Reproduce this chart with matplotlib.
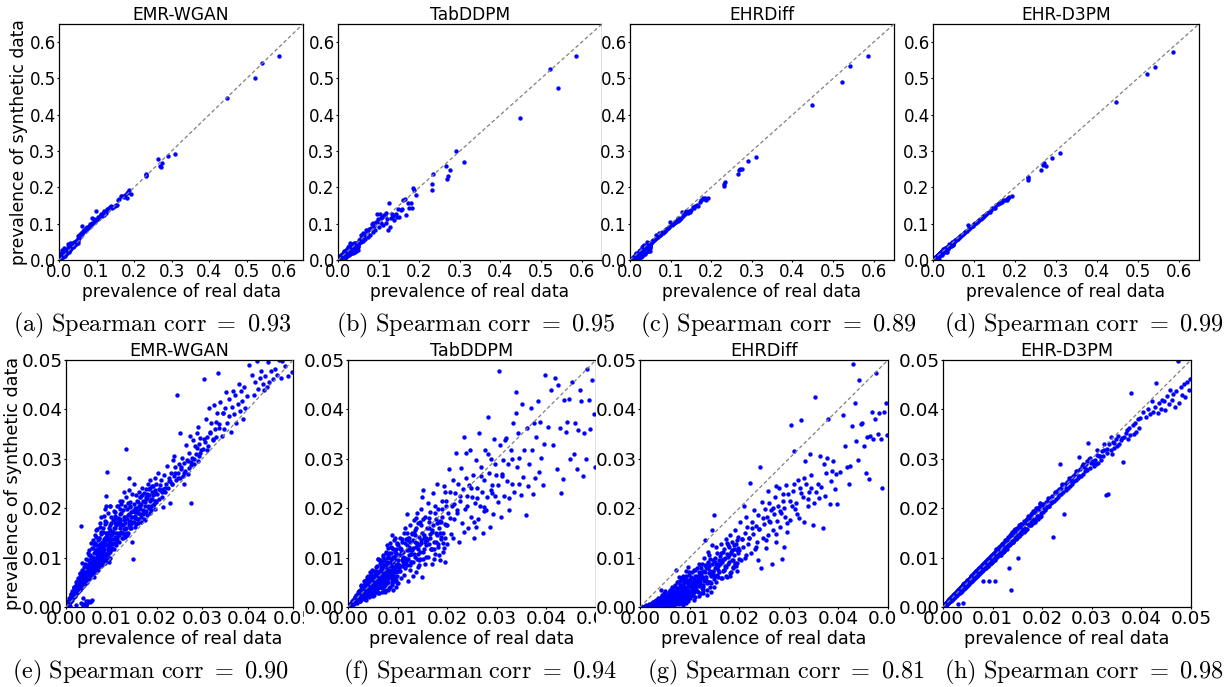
import numpy as np
import matplotlib
matplotlib.use('Agg')
import matplotlib.pyplot as plt
from matplotlib.patches import Rectangle

plt.rcParams['mathtext.fontset'] = 'cm'

# figure size in pixels (dpi 100)
W, H = 1229, 687

models = ['EMR-WGAN', 'TabDDPM', 'EHRDiff', 'EHR-D3PM']
letters_full = ['a', 'b', 'c', 'd']
letters_zoom = ['e', 'f', 'g', 'h']
corr_full = ['0.93', '0.95', '0.89', '0.99']
corr_zoom = ['0.90', '0.94', '0.81', '0.98']

# ---- prevalence values, in units of 1e-4 ----
# codes with high prevalence (> 0.05)
real_hi = [5870, 5420, 5230, 4470, 3100, 2910, 2750, 2710, 2690, 2650, 2330, 2320, 2310, 1920, 1860,
           1840, 1820, 1800, 1760, 1720, 1680, 1640, 1610, 1580, 1550, 1510, 1480, 1450, 1420, 1390,
           1360, 1330, 1300, 1270, 1250, 1230, 1210, 1190, 1170, 1150, 1130, 1110, 1090, 1070, 1050,
           1030, 1010, 990, 970, 950, 930, 910, 890, 870, 850, 830, 810, 790, 770, 750,
           730, 710, 690, 670, 650, 635, 620, 605, 590, 575, 560, 545, 530, 515, 505]
wgan_hi = [5620, 5430, 5000, 4450, 2920, 2860, 2660, 2550, 2600, 2770, 2360, 2310, 2330, 1830, 1920,
           1870, 1700, 1850, 1800, 1730, 1760, 1770, 1680, 1640, 1520, 1510, 1500, 1460, 1440, 1480,
           1450, 1420, 1390, 1400, 1290, 1330, 1350, 1240, 1300, 1210, 1240, 1280, 1200, 1150, 1120,
           1180, 1120, 1340, 1090, 1060, 1120, 1010, 1030, 1150, 960, 1000, 920, 950, 880, 900,
           840, 870, 800, 830, 760, 790, 940, 720, 730, 650, 680, 700, 610, 660, 590]
tab_hi = [5620, 4750, 5250, 3920, 2690, 3000, 2480, 2320, 2220, 2600, 2370, 2100, 1940, 1790, 1930,
          1990, 1430, 1560, 1420, 1580, 1240, 1680, 1660, 1400, 1390, 1190, 1410, 1180, 1270, 1100,
          1200, 1260, 1150, 920, 1560, 840, 1130, 1300, 1010, 1220, 1250, 960, 1180, 1150, 1020,
          1270, 900, 1120, 1280, 1050, 1060, 820, 950, 1010, 780, 990, 880, 700, 850, 820,
          620, 760, 820, 590, 710, 660, 740, 520, 630, 690, 500, 590, 560, 470, 540]
diff_hi = [5610, 5340, 4900, 4280, 2830, 2730, 2520, 2500, 2490, 2360, 2160, 2080, 2050, 1720, 1650,
           1700, 1680, 1700, 1640, 1600, 1500, 1510, 1480, 1440, 1470, 1390, 1330, 1360, 1300, 1360,
           1260, 1290, 1200, 1330, 1170, 1140, 1100, 1150, 1080, 1100, 1050, 1040, 1020, 990, 1000,
           960, 980, 1060, 900, 920, 870, 850, 860, 810, 800, 780, 740, 760, 720, 700,
           680, 750, 640, 630, 690, 610, 570, 580, 540, 560, 520, 510, 500, 470, 480]
d3pm_hi = [5720, 5320, 5120, 4360, 2950, 2800, 2600, 2660, 2620, 2490, 2290, 2200, 2250, 1760, 1740,
           1700, 1650, 1680, 1660, 1640, 1590, 1570, 1560, 1550, 1510, 1420, 1440, 1430, 1380, 1330,
           1330, 1300, 1270, 1250, 1220, 1190, 1200, 1160, 1140, 1120, 1110, 1080, 1070, 1040, 1030,
           1010, 990, 980, 950, 930, 910, 900, 870, 860, 970, 810, 800, 780, 770, 730,
           720, 700, 680, 660, 640, 630, 610, 590, 580, 570, 550, 540, 520, 510, 500]

# codes with low prevalence (<= 0.05)
real_lo = [
    498, 495, 491, 488, 485, 482, 479, 476, 473, 470, 467, 464, 461, 458, 455,
    452, 448, 445, 442, 439, 436, 433, 430, 427, 424, 421, 417, 413, 409, 404,
    398, 395, 393, 390, 388, 385, 383, 380, 378, 375, 373, 370, 368, 365, 363, 360, 358, 355, 353, 350,
    348, 345, 343, 340, 338, 335, 333, 330, 328, 325, 323, 320, 318, 315, 313, 311, 309, 306, 304, 302,
    298, 296, 294, 292, 290, 288, 286, 284, 282, 280, 278, 276, 274, 272, 270, 268, 266, 264, 262, 260,
    258, 256, 254, 252, 250, 248, 246, 244, 242, 240, 238, 236, 234, 232, 230, 228, 226, 224, 222, 220,
    218, 216, 214, 212, 210, 208, 206, 204, 202, 200, 291, 275, 259, 237, 213,
    199, 198, 196, 195, 194, 192, 191, 190, 189, 188, 186, 185, 184, 182, 181, 180,
    179, 178, 176, 175, 174, 172, 171, 170, 169, 168, 166, 165, 164, 162, 161, 160,
    159, 158, 156, 155, 154, 152, 151, 150, 149, 148, 146, 145, 144, 142, 141, 140,
    139, 138, 136, 135, 134, 132, 131, 130, 129, 128, 126, 125, 124, 122, 121, 120,
    119, 118, 116, 115, 114, 112, 111, 110, 109, 108, 106, 105, 104, 102, 101, 100,
    99, 98, 97, 96, 95, 94, 93, 92, 91, 90, 89, 88, 87, 86, 85, 84, 83, 82, 81, 80,
    79, 78, 77, 76, 75, 74, 73, 72, 71, 70, 69, 68, 67, 66, 65, 64, 63, 62, 61, 60,
    59, 58, 57, 56, 55, 54, 53, 52, 51, 50,
    99, 97, 95, 93, 91, 89, 87, 85, 83, 81, 79, 77, 75, 73, 71, 69, 67, 65, 63, 61, 59, 57, 55, 53, 51,
    49, 48, 47, 46, 45, 44, 43, 42, 41, 40, 39, 38, 37, 36, 35, 34, 33, 32, 31, 30,
    29, 28, 27, 26, 25, 24, 23, 22, 21, 20, 19, 18, 17, 16, 15, 14, 13, 12, 11, 10,
    9, 8, 7, 6, 5, 4, 3, 2, 1,
    49, 47, 45, 43, 41, 39, 37, 35, 33, 31, 29, 27, 25, 23, 21, 19, 17, 15, 13, 11, 9, 7, 5, 3, 1,
    197, 193, 189, 187, 183, 179, 177, 173, 169, 167, 163, 157, 153, 147, 143, 137, 133, 127, 123, 117, 113, 107, 103, 101,
    196, 185, 174, 163, 152, 141, 131, 121, 111, 104, 195, 176, 158, 139, 122, 108,
    188, 166, 144, 128, 115, 182, 154, 135, 118, 102,
    98, 96, 94, 92, 90, 88, 86, 84, 82, 80, 78, 76, 74, 72, 70, 68, 66, 64, 62, 60, 58, 56, 54, 52, 50,
    97, 93, 89, 85, 81, 77, 73, 69, 65, 61, 57, 53, 95, 87, 79, 71, 63, 55, 91, 83, 75, 67, 59, 51, 99,
    48, 46, 44, 42, 40, 38, 36, 34, 32, 30, 28, 26, 24, 22, 20, 18, 16, 14, 12, 10, 8, 6, 4, 2,
    47, 43, 39, 35, 31, 27, 23, 19, 15, 11, 7, 3, 49, 41, 33, 25, 17, 9,
    45, 37, 29, 21, 13, 5, 44, 36, 28, 20, 12, 4, 40, 30, 22, 14, 8, 2,
    149, 147, 145, 143, 141, 139, 137, 135, 133, 131, 129, 127, 125, 123, 121,
    119, 117, 115, 113, 111, 109, 107, 105, 103, 101, 148, 138, 128, 118, 108,
    99, 97, 96, 94, 93, 91, 90, 88, 87, 85, 84, 82, 81, 79, 78, 76, 75, 73, 72, 70,
    69, 67, 66, 64, 63, 61, 60, 58, 57, 55, 54, 52, 51, 98, 92, 86, 80, 74, 68, 62, 56, 50, 89, 77, 65,
    49, 47, 46, 44, 43, 41, 40, 38, 37, 35, 34, 32, 31, 29, 28, 26, 25, 23, 22, 20,
    19, 17, 16, 14, 13, 11, 10, 8, 7, 5, 4, 2, 1, 48, 42, 36, 30, 24, 18, 12, 6, 45, 33, 21, 9,
    345, 338, 331, 324, 317, 310, 303, 296, 289, 282, 275, 268, 261, 254, 247,
    240, 233, 226, 219, 212, 205, 198, 191, 184, 177, 170, 163, 156, 152, 158]
wgan_lo = [
    475, 520, 505, 468, 530, 488, 510, 497, 463, 499, 540, 470, 482, 512, 462,
    478, 455, 495, 446, 468, 440, 452, 478, 463, 441, 497, 455, 430, 470, 490,
    428, 402, 445, 381, 417, 437, 396, 452, 410, 372, 429, 390, 438, 404, 355, 421, 386, 373, 436, 403,
    360, 392, 347, 415, 371, 473, 392, 345, 361, 408, 338, 372, 355, 402, 326, 344, 381, 333, 462, 319,
    318, 342, 305, 330, 296, 352, 310, 325, 289, 338, 302, 293, 346, 281, 312, 270, 298, 328, 276, 292,
    265, 302, 280, 352, 262, 290, 272, 430, 258, 283, 266, 298, 248, 272, 255, 211, 262, 240, 285, 250,
    232, 268, 238, 222, 258, 236, 246, 218, 272, 228, 365, 210, 248, 305, 202,
    250, 212, 236, 198, 228, 245, 206, 218, 232, 196, 258, 215, 190, 226, 248, 204,
    221, 186, 238, 205, 192, 230, 178, 214, 196, 240, 208, 182, 222, 188, 205, 232,
    178, 212, 195, 168, 226, 185, 200, 172, 208, 98, 182, 132, 192, 175, 160, 203,
    188, 165, 210, 150, 178, 320, 170, 158, 182, 148, 196, 165, 140, 208, 152, 174,
    160, 188, 145, 172, 205, 138, 166, 150, 178, 142, 160, 195, 130, 152, 118, 170,
    145, 112, 205, 128, 98, 160, 118, 135, 274, 105, 142, 205, 96, 125, 168, 110, 138, 88, 152, 120,
    100, 148, 82, 128, 112, 162, 90, 118, 75, 135, 104, 125, 70, 96, 142, 85, 112, 60, 98, 78,
    120, 70, 92, 12, 84, 66, 105, 58, 78, 88,
    118, 136, 92, 150, 125, 108, 130, 175, 95, 114, 122, 90, 105, 140, 78, 95, 115, 82, 130, 68, 88, 15, 76, 10, 64,
    72, 55, 8, 62, 48, 80, 52, 5, 66, 44, 58, 18, 50, 70, 40, 48, 62, 163, 35, 52,
    42, 58, 30, 46, 36, 50, 28, 38, 44, 24, 30, 40, 22, 32, 26, 18, 28, 15, 22, 14,
    16, 10, 12, 8, 9, 6, 4, 3, 2,
    12, 65, 4, 58, 70, 46, 6, 55, 38, 45, 50, 34, 40, 26, 32, 28, 20, 24, 14, 18, 12, 8, 6, 3, 1,
    232, 208, 244, 219, 200, 228, 195, 212, 188, 226, 199, 214, 180, 195, 168, 186, 160, 176, 150, 168, 142, 160, 128, 148,
    262, 240, 176, 222, 162, 205, 148, 190, 132, 152, 215, 222, 190, 172, 165, 138,
    205, 172, 182, 158, 150, 238, 200, 145, 178, 120,
    130, 118, 140, 108, 125, 150, 102, 118, 132, 100, 112, 95, 122, 88, 105, 92, 112, 80, 95, 84, 102, 72, 88, 68, 80,
    155, 112, 128, 138, 108, 125, 98, 115, 85, 100, 78, 90, 122, 135, 118, 110, 92, 76, 145, 100, 105, 82, 95, 72, 120,
    62, 70, 55, 64, 50, 58, 46, 52, 40, 46, 36, 42, 30, 35, 26, 30, 20, 24, 15, 18, 10, 12, 5, 4,
    58, 50, 66, 44, 50, 34, 38, 22, 26, 12, 11, 6, 78, 60, 45, 38, 25, 14,
    5, 3, 48, 32, 20, 8, 68, 52, 42, 30, 18, 7, 56, 38, 28, 20, 14, 2,
    250, 172, 228, 160, 212, 236, 150, 198, 222, 142, 205, 182, 140, 215, 168,
    198, 132, 180, 205, 125, 170, 192, 118, 176, 138, 195, 262, 232, 215, 185,
    182, 100, 165, 128, 190, 95, 150, 172, 90, 140, 185, 108, 160, 132, 88, 152, 170, 80, 140, 118,
    158, 76, 125, 145, 72, 110, 135, 70, 120, 100, 130, 62, 105, 205, 115, 198, 95, 128, 100, 128, 92, 115, 225, 182, 155,
    95, 50, 85, 62, 98, 48, 80, 72, 42, 75, 60, 38, 68, 55, 34, 58, 45, 30, 50, 36,
    24, 40, 28, 20, 32, 18, 26, 12, 18, 8, 10, 3, 2, 110, 88, 90, 66, 52, 38, 26, 14, 12, 8, 4, 2,
    392, 362, 375, 341, 352, 318, 340, 312, 322, 300, 288, 296, 272, 284, 262,
    272, 250, 256, 240, 232, 238, 215, 226, 200, 218, 190, 205, 178, 192, 170]
tab_lo = [
    283, 390, 459, 360, 420, 481, 300, 352, 265, 418, 440, 358, 280, 372, 310,
    455, 300, 422, 375, 354, 420, 260, 230, 362, 450, 280, 463, 328, 440, 364,
    470, 330, 246, 302, 375, 273, 418, 345, 262, 372, 228, 318, 403, 290, 245, 362, 186, 318, 264, 410,
    226, 302, 352, 283, 435, 232, 372, 250, 318, 196, 290, 255, 342, 225, 298, 270, 183, 328, 478, 246,
    268, 225, 340, 188, 246, 300, 162, 272, 385, 222, 196, 318, 258, 150, 232, 284, 205, 352, 178, 240,
    298, 210, 140, 268, 222, 182, 318, 246, 160, 225, 262, 198, 345, 238, 170, 282, 215, 132, 248, 196,
    312, 230, 178, 258, 205, 148, 232, 280, 190, 166, 230, 202, 162, 312, 208,
    128, 205, 92, 168, 245, 150, 112, 182, 215, 138, 175, 95, 160, 198, 122, 250,
    146, 178, 108, 205, 132, 165, 230, 88, 152, 118, 192, 140, 172, 102, 210, 135,
    160, 125, 88, 182, 145, 236, 112, 150, 222, 130, 98, 172, 142, 118, 80, 190,
    128, 160, 102, 145, 176, 92, 135, 115, 150, 108, 132, 86, 165, 122, 98, 140,
    116, 189, 92, 130, 78, 150, 112, 100, 132, 95, 118, 72, 140, 105, 125, 88,
    62, 128, 85, 40, 104, 72, 135, 52, 92, 118, 45, 82, 110, 66, 130, 90, 38, 72, 120, 58,
    100, 48, 76, 112, 35, 64, 88, 42, 105, 55, 78, 30, 62, 92, 50, 40, 72, 58, 98, 28,
    62, 45, 80, 36, 52, 70, 25, 48, 60, 38,
    88, 55, 112, 70, 95, 48, 122, 64, 85, 35, 92, 58, 70, 45, 82, 55, 86, 40, 68, 98, 35, 72, 50, 62, 42,
    52, 30, 66, 44, 22, 58, 36, 48, 25, 62, 30, 46, 20, 40, 52, 24, 38, 45, 18, 32,
    36, 20, 28, 42, 15, 26, 18, 32, 14, 22, 12, 24, 16, 10, 20, 15, 8, 12, 10, 6,
    8, 4, 6, 5, 3, 3, 2, 1, 1,
    38, 56, 28, 50, 34, 44, 26, 38, 16, 28, 22, 32, 12, 24, 18, 20, 10, 14, 8, 12, 6, 8, 3, 2, 1,
    165, 120, 198, 142, 105, 170, 132, 98, 155, 118, 180, 102, 140, 165, 95, 122, 150, 92, 115, 138, 88, 110, 78, 95,
    232, 150, 118, 128, 178, 108, 120, 135, 92, 118, 140, 190, 135, 98, 105, 82,
    172, 148, 125, 108, 100, 128, 118, 132, 85, 72,
    85, 70, 98, 62, 80, 55, 92, 66, 75, 50, 82, 60, 70, 48, 65, 58, 45, 62, 40, 55, 48, 35, 50, 42, 32,
    110, 78, 68, 100, 62, 88, 54, 72, 50, 66, 44, 58, 60, 74, 64, 56, 48, 40, 96, 82, 52, 68, 38, 45, 72,
    40, 52, 35, 44, 30, 38, 28, 34, 26, 30, 20, 25, 18, 22, 16, 17, 12, 14, 9, 10, 6, 6, 3, 2,
    36, 46, 32, 24, 36, 22, 16, 18, 10, 9, 5, 2, 44, 34, 28, 20, 13, 7,
    48, 30, 24, 18, 11, 4, 50, 32, 26, 14, 10, 3, 42, 22, 19, 11, 7, 1,
    60, 198, 112, 85, 170, 130, 70, 155, 108, 62, 148, 118, 75, 140, 52,
    125, 95, 160, 65, 102, 138, 58, 120, 85, 48, 135, 180, 92, 150, 112,
    48, 118, 80, 140, 58, 102, 35, 120, 72, 92, 40, 110, 68, 125, 52, 88, 30, 95, 62, 102,
    38, 78, 55, 90, 28, 70, 48, 82, 30, 65, 42, 72, 22, 130, 75, 60, 105, 45, 85, 50, 70, 58, 145, 110, 95,
    25, 62, 40, 70, 20, 52, 38, 60, 15, 48, 30, 52, 18, 40, 28, 44, 12, 32, 20, 30,
    10, 25, 14, 20, 6, 15, 8, 12, 4, 6, 2, 2, 1, 75, 28, 55, 22, 35, 8, 16, 3, 58, 42, 26, 9,
    250, 392, 300, 220, 338, 265, 212, 290, 236, 310, 195, 265, 220, 172, 240,
    205, 152, 225, 190, 140, 180, 215, 130, 172, 150, 118, 160, 132, 98, 140]
diff_lo = [
    348, 413, 395, 240, 340, 392, 351, 474, 380, 341, 395, 346, 260, 344, 272,
    325, 372, 370, 460, 298, 337, 412, 492, 367, 286, 248, 284, 325, 388, 274,
    208, 270, 238, 295, 276, 255, 208, 380, 302, 271, 225, 290, 160, 242, 305, 220, 250, 233, 426, 210,
    166, 268, 310, 232, 218, 248, 295, 172, 222, 378, 240, 180, 258, 210, 198, 316, 235, 204, 368, 176,
    228, 152, 246, 182, 122, 215, 98, 190, 162, 240, 205, 174, 132, 222, 188, 155, 88, 196, 172, 210,
    146, 182, 120, 198, 168, 140, 212, 78, 284, 158, 186, 132, 164, 118, 196, 148, 172, 110, 252, 140,
    128, 162, 106, 150, 205, 122, 138, 96, 172, 115, 200, 245, 235, 95, 182,
    98, 142, 72, 115, 128, 88, 155, 105, 118, 78, 132, 95, 110, 145, 68, 122,
    92, 125, 60, 108, 138, 82, 100, 118, 75, 112, 95, 58, 128, 88, 104, 70,
    96, 82, 110, 65, 122, 78, 92, 56, 186, 72, 155, 88, 62, 98, 50, 84,
    68, 92, 48, 78, 60, 135, 86, 52, 72, 45, 88, 60, 38, 78, 55, 66,
    42, 70, 52, 32, 62, 48, 74, 40, 56, 74, 36, 50, 28, 60, 44, 30,
    42, 65, 18, 80, 30, 55, 24, 72, 38, 12, 48, 28, 62, 15, 35, 22, 58, 32, 10, 45,
    28, 16, 50, 8, 36, 20, 74, 12, 30, 6, 25, 40, 10, 18, 32, 8, 22, 14, 35, 5,
    16, 28, 6, 12, 20, 4, 24, 10, 32, 7,
    25, 50, 14, 38, 60, 32, 8, 44, 20, 52, 12, 34, 22, 6, 40, 18, 4, 26, 12, 8, 10, 18, 3, 14, 5,
    12, 4, 22, 8, 2, 15, 6, 34, 3, 10, 5, 12, 2, 18, 7, 3, 9, 14, 1, 6,
    8, 2, 11, 4, 1, 5, 2, 7, 1, 3, 2, 4, 1, 3, 1, 2, 1, 3, 1, 1,
    1, 0, 1, 0, 1, 0, 1, 0, 0,
    6, 16, 3, 9, 1, 8, 2, 5, 10, 1, 4, 6, 1, 3, 2, 1, 3, 2, 1, 0, 1, 0, 0, 1, 0,
    110, 82, 125, 95, 70, 105, 88, 62, 98, 72, 110, 60, 85, 70, 48, 78, 55, 40, 65, 30, 52, 25, 40, 18,
    135, 115, 80, 58, 100, 40, 70, 48, 20, 35, 90, 130, 75, 105, 28, 45,
    80, 92, 65, 58, 42, 62, 50, 35, 62, 28,
    22, 35, 15, 28, 40, 12, 25, 18, 32, 10, 20, 14, 26, 8, 18, 12, 6, 15, 9, 4, 12, 7, 3, 8, 5,
    48, 20, 30, 10, 22, 30, 12, 20, 10, 14, 5, 10, 28, 38, 15, 24, 6, 12, 18, 8, 18, 16, 8, 3, 55,
    6, 10, 3, 8, 5, 2, 6, 4, 1, 3, 5, 2, 1, 3, 1, 2, 0, 1, 1, 0, 1, 0, 0, 0,
    16, 4, 9, 3, 7, 1, 4, 1, 2, 1, 0, 0, 2, 12, 2, 4, 1, 0,
    10, 4, 2, 2, 0, 0, 7, 1, 3, 2, 0, 1, 14, 6, 0, 2, 0, 1,
    40, 95, 125, 30, 72, 50, 112, 25, 80, 60, 100, 28, 70, 45, 85,
    22, 58, 78, 35, 62, 15, 48, 70, 22, 55, 65, 90, 35, 88, 30,
    25, 12, 45, 30, 8, 52, 20, 38, 5, 28, 45, 15, 30, 60, 6, 22, 38, 10, 30, 45,
    8, 20, 32, 4, 18, 25, 10, 30, 3, 15, 22, 6, 12, 70, 62, 55, 40, 50, 15, 28, 20, 14, 15, 12, 40,
    3, 18, 8, 25, 2, 10, 6, 15, 1, 8, 12, 4, 9, 1, 6, 10, 2, 5, 1, 4,
    7, 1, 3, 2, 5, 0, 2, 1, 0, 1, 0, 0, 0, 28, 20, 3, 12, 8, 2, 3, 0, 16, 6, 3, 1,
    240, 205, 262, 230, 188, 250, 215, 170, 228, 195, 148, 200, 175, 135, 180,
    158, 122, 160, 140, 100, 138, 120, 90, 112, 102, 75, 95, 80, 62, 88]
d3pm_lo = [
    462, 440, 455, 425, 452, 430, 445, 412, 498, 437, 405, 432, 420, 440, 410,
    428, 398, 418, 420, 400, 412, 392, 453, 405, 395, 418, 390, 400, 385, 395,
    383, 362, 380, 355, 372, 350, 368, 434, 348, 362, 340, 358, 352, 345, 294, 342, 338, 330, 346, 325,
    340, 322, 335, 310, 318, 330, 228, 312, 226, 318, 305, 315, 298, 306, 292, 308, 290, 298, 285, 296,
    292, 281, 300, 331, 278, 290, 276, 283, 270, 286, 265, 279, 304, 262, 275, 258, 270, 255, 266, 249,
    262, 245, 258, 241, 254, 236, 250, 189, 232, 246, 228, 290, 238, 222, 235, 218, 230, 214, 141, 224,
    210, 221, 205, 216, 202, 212, 196, 208, 193, 202, 296, 266, 262, 240, 205,
    208, 191, 208, 185, 198, 179, 199, 185, 200, 179, 192, 173, 194, 178, 194, 172,
    173, 188, 165, 182, 165, 184, 168, 178, 178, 158, 171, 153, 175, 155, 164, 151,
    151, 169, 150, 164, 143, 159, 99, 140, 159, 140, 158, 139, 148, 131, 150, 133,
    147, 35, 127, 146, 79, 125, 141, 118, 138, 120, 132, 115, 135, 117, 129, 111,
    112, 127, 106, 121, 106, 122, 107, 117, 117, 102, 115, 53, 95, 109, 93, 105,
    105, 92, 103, 89, 101, 88, 100, 52, 97, 84, 95, 82, 93, 79, 91, 78, 90, 76, 52, 87,
    73, 85, 71, 82, 69, 80, 67, 78, 65, 76, 63, 74, 61, 72, 59, 70, 57, 68, 55, 66,
    53, 64, 51, 62, 50, 59, 47, 57, 45, 55,
    96, 100, 94, 97, 90, 86, 90, 82, 86, 78, 76, 80, 72, 75, 68, 66, 70, 62, 65, 58, 56, 60, 52, 55, 49,
    54, 43, 51, 41, 49, 39, 48, 37, 46, 8, 43, 33, 41, 31, 39, 29, 37, 28, 35, 7,
    32, 24, 31, 22, 29, 20, 27, 18, 25, 17, 22, 15, 20, 13, 18, 12, 16, 10, 14, 8,
    11, 6, 9, 4, 7, 2, 5, 1, 2,
    50, 46, 42, 40, 44, 41, 36, 36, 30, 33, 30, 26, 22, 20, 23, 20, 15, 14, 10, 12, 10, 6, 5, 3, 2,
    185, 203, 180, 200, 176, 190, 167, 181, 158, 176, 157, 169, 144, 157, 135, 148, 126, 136, 113, 123, 105, 117, 97, 108,
    210, 174, 183, 151, 160, 131, 138, 112, 119, 98, 182, 185, 148, 151, 114, 115,
    198, 157, 155, 121, 123, 171, 166, 127, 127, 95,
    94, 102, 90, 97, 86, 93, 82, 89, 78, 85, 74, 80, 70, 77, 66, 73, 62, 69, 58, 65, 55, 60, 51, 57, 47,
    103, 88, 95, 80, 87, 72, 78, 64, 70, 57, 62, 49, 99, 83, 84, 67, 67, 52, 86, 88, 71, 72, 56, 54, 104,
    45, 50, 41, 46, 37, 42, 33, 38, 30, 33, 26, 29, 22, 25, 18, 21, 14, 16, 10, 12, 7, 8, 3, 3,
    50, 40, 42, 32, 34, 25, 26, 17, 17, 9, 8, 2, 46, 44, 30, 27, 15, 10,
    48, 34, 31, 19, 14, 4, 47, 38, 25, 22, 13, 5, 43, 28, 20, 12, 9, 1,
    158, 138, 152, 135, 149, 131, 145, 127, 141, 124, 136, 120, 133, 116, 128,
    112, 124, 109, 120, 105, 115, 101, 112, 97, 107, 142, 146, 121, 126, 103,
    92, 103, 90, 100, 88, 97, 84, 94, 82, 91, 79, 88, 76, 84, 73, 81, 70, 78, 68, 75,
    64, 72, 62, 68, 59, 65, 56, 62, 54, 59, 50, 55, 48, 104, 87, 92, 75, 79, 63, 66, 52, 53, 84, 72, 69,
    52, 44, 49, 41, 46, 38, 43, 35, 40, 32, 37, 29, 34, 27, 30, 24, 27, 21, 24, 18,
    21, 15, 18, 13, 15, 10, 11, 7, 8, 5, 4, 2, 1, 45, 45, 33, 32, 22, 19, 11, 6, 48, 30, 23, 8,
    332, 345, 320, 330, 306, 318, 292, 302, 280, 290, 266, 276, 254, 262, 240,
    248, 226, 233, 212, 220, 198, 206, 184, 192, 172, 176, 158, 162, 146, 153]

for arr in (wgan_lo, tab_lo, diff_lo, d3pm_lo):
    assert len(arr) == len(real_lo), (len(arr), len(real_lo))

real = np.array(real_hi + real_lo) / 1e4
synthetic = [np.array(wgan_hi + wgan_lo) / 1e4,
             np.array(tab_hi + tab_lo) / 1e4,
             np.array(diff_hi + diff_lo) / 1e4,
             np.array(d3pm_hi + d3pm_lo) / 1e4]

# ---- layout (pixel boxes of each sub-image) ----
top_x = [(59, 303), (338, 602), (630, 894), (933, 1199)]
bot_x = [(66, 293), (348, 596), (640, 888), (943, 1191)]
top_y = (24, 260)
bot_y = (360, 607)
top_img = [0, 305, 602, 903]
bot_img = [0, 304, 596, 897]
top_cap = [152, 476, 778, 1084]
bot_cap = [151, 480, 786, 1084]

fig = plt.figure(figsize=(W / 100, H / 100), dpi=100)
fig.patch.set_facecolor('white')


def panel(xbox, ybox, img_l, img_r, row, x, y, lim, ticks, fmt, title, ylab, fs_tick, fs_lab, ylpad):
    l, r = xbox
    t, b = ybox
    ax = fig.add_axes([l / W, 1 - b / H, (r - l) / W, (b - t) / H])
    if img_l > 0:
        # each sub-figure is its own picture: cover what spills from the left neighbour
        cover = Rectangle((img_l / W, 1 - row[1] / H), (img_r - img_l) / W, (row[1] - row[0]) / H,
                          transform=fig.transFigure, facecolor='white', edgecolor='none', zorder=-10)
        ax.add_artist(cover)
        cover.set_clip_on(False)
    ax.scatter(x, y, s=10, c='blue', linewidths=0, zorder=2)
    ax.plot([0, lim], [0, lim], ls=(0, (3, 2)), color='grey', lw=0.9, zorder=3)
    ax.set_xlim(0, lim)
    ax.set_ylim(0, lim)
    ax.set_xticks(ticks)
    ax.set_yticks(ticks)
    ax.set_xticklabels([fmt % v for v in ticks])
    ax.set_yticklabels([fmt % v for v in ticks])
    ax.tick_params(length=1.2, width=0.8, pad=1.2, labelsize=fs_tick)
    for sp in ax.spines.values():
        sp.set_linewidth(0.9)
    ax.set_title(title, fontsize=fs_lab, pad=1)
    ax.set_xlabel('prevalence of real data', fontsize=fs_lab, labelpad=1)
    if ylab:
        ax.set_ylabel('prevalence of synthetic data', fontsize=fs_lab, labelpad=ylpad)
    return ax


ticks_full = [0.0, 0.1, 0.2, 0.3, 0.4, 0.5, 0.6]
ticks_zoom = [0.0, 0.01, 0.02, 0.03, 0.04, 0.05]

for i in range(4):
    img_r = top_img[i + 1] if i < 3 else W
    panel(top_x[i], top_y, top_img[i], img_r, (0, 340), real, synthetic[i], 0.65,
          ticks_full, '%.1f', models[i], i == 0, 12, 12.3, 1)
    fig.text(top_cap[i] / W, 1 - 325 / H,
             r'$\mathrm{(%s)\ Spearman\ corr}\ =\ %s$' % (letters_full[i], corr_full[i]),
             ha='center', va='center', fontsize=17.5)

for i in range(4):
    img_r = bot_img[i + 1] if i < 3 else W
    panel(bot_x[i], bot_y, bot_img[i], img_r, (340, H), real, synthetic[i], 0.05,
          ticks_zoom, '%.2f', models[i], i == 0, 13.2, 12.7, 0)
    fig.text(bot_cap[i] / W, 1 - 672 / H,
             r'$\mathrm{(%s)\ Spearman\ corr}\ =\ %s$' % (letters_zoom[i], corr_zoom[i]),
             ha='center', va='center', fontsize=17.5)

fig.savefig('out.png', dpi=100, facecolor='white')
